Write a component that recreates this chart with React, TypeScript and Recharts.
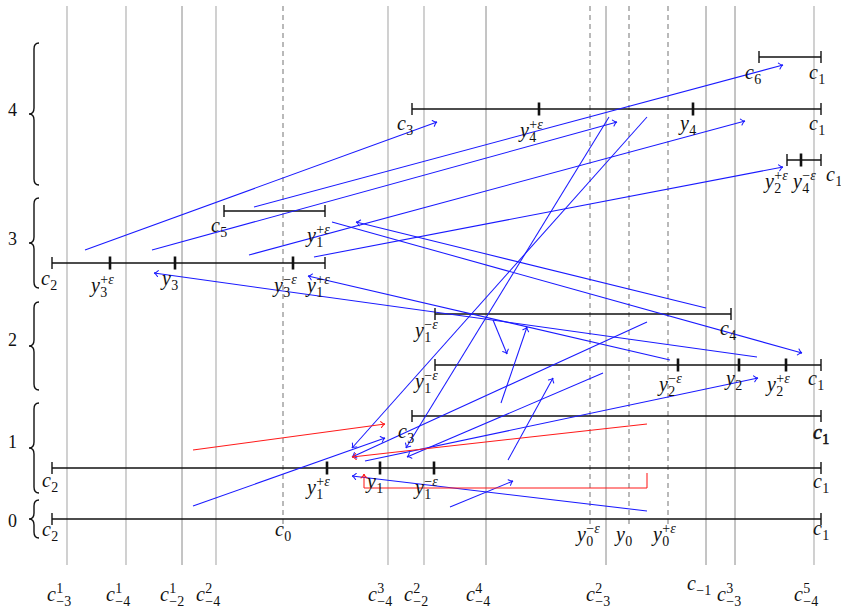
import React from 'react';
import { ScatterChart, Scatter, XAxis, YAxis, ReferenceLine, ReferenceDot } from 'recharts';

const W = 841;
const H = 607;
const SERIF = "'Liberation Serif', 'DejaVu Serif', serif";

// vertical guide lines (x positions in diagram units)
const lightGuides = [67, 126, 216, 388, 424, 814];
const darkGuides = [182, 486, 606, 706, 735];
const dashedGuides = [283, 590, 629, 668];
const guideSpan = [6, 565];
const dashSpan = [6, 528];

// intervals: level y, start, end
const intervals = [
  { y: 519, a: 52, b: 821 },
  { y: 468, a: 52, b: 821 },
  { y: 416, a: 412, b: 821 },
  { y: 365, a: 435, b: 821 },
  { y: 314, a: 435, b: 731 },
  { y: 263, a: 52, b: 325 },
  { y: 211, a: 224, b: 325 },
  { y: 109, a: 412, b: 821 },
  { y: 57, a: 759, b: 821 },
  { y: 160, a: 787, b: 821 },
];

// interior (thick) ticks
const innerTicks = [
  { x: 327, y: 468 }, { x: 380, y: 468 }, { x: 434, y: 468 },
  { x: 678, y: 365 }, { x: 739, y: 365 }, { x: 786, y: 365 },
  { x: 110, y: 263 }, { x: 175, y: 263 }, { x: 293, y: 263 },
  { x: 539, y: 109 }, { x: 693, y: 109 },
  { x: 801, y: 160 },
];

const endTicks = intervals.flatMap((r) => [{ x: r.a, y: r.y }, { x: r.b, y: r.y }]);

// blue arrows (from -> to)
const blueArrows = [
  { x1: 85, y1: 250, x2: 437, y2: 122 },
  { x1: 152, y1: 250, x2: 617, y2: 122 },
  { x1: 254, y1: 207, x2: 783, y2: 65 },
  { x1: 249, y1: 255, x2: 745, y2: 121 },
  { x1: 314, y1: 257, x2: 783, y2: 167 },
  { x1: 332, y1: 222, x2: 802, y2: 353 },
  { x1: 706, y1: 308, x2: 356, y2: 222 },
  { x1: 670, y1: 360, x2: 308, y2: 276 },
  { x1: 757, y1: 357, x2: 154, y2: 273 },
  { x1: 647, y1: 117, x2: 352, y2: 448 },
  { x1: 609, y1: 117, x2: 406, y2: 448 },
  { x1: 647, y1: 322, x2: 352, y2: 457 },
  { x1: 603, y1: 373, x2: 407, y2: 457 },
  { x1: 365, y1: 461, x2: 758, y2: 378 },
  { x1: 193, y1: 506, x2: 385, y2: 438 },
  { x1: 647, y1: 511, x2: 352, y2: 476 },
  { x1: 450, y1: 507, x2: 513, y2: 481 },
  { x1: 508, y1: 460, x2: 553, y2: 378 },
  { x1: 501, y1: 403, x2: 527, y2: 327 },
  { x1: 493, y1: 320, x2: 507, y2: 354 },
];

const redArrows = [
  { x1: 193, y1: 450, x2: 385, y2: 424 },
  { x1: 647, y1: 424, x2: 352, y2: 457 },
];

const redPath = [
  { x: 647, y: 473 },
  { x: 647, y: 488 },
  { x: 364, y: 488 },
  { x: 364, y: 474 },
];

// level braces
const braces = [
  { label: '0', top: 500, bottom: 538, ly: 527 },
  { label: '1', top: 403, bottom: 493, ly: 448 },
  { label: '2', top: 302, bottom: 390, ly: 346 },
  { label: '3', top: 198, bottom: 288, ly: 245 },
  { label: '4', top: 43, bottom: 185, ly: 116 },
];
const braceX = 34;

type Lab = { b: string; sub?: string; sup?: string; x: number; y: number; bold?: boolean };

const rowLabels: Lab[] = [
  { b: 'c', sub: '2', x: 42, y: 536 },
  { b: 'c', sub: '0', x: 275, y: 536 },
  { b: 'c', sub: '1', x: 813, y: 535 },
  { b: 'y', sub: '0', sup: '−ε', x: 577, y: 541 },
  { b: 'y', sub: '0', x: 616, y: 541 },
  { b: 'y', sub: '0', sup: '+ε', x: 653, y: 541 },

  { b: 'c', sub: '2', x: 42, y: 487 },
  { b: 'y', sub: '1', sup: '+ε', x: 307, y: 494 },
  { b: 'y', sub: '1', x: 367, y: 488 },
  { b: 'y', sub: '1', sup: '−ε', x: 415, y: 494 },
  { b: 'c', sub: '1', x: 813, y: 488 },

  { b: 'c', sub: '3', x: 398, y: 438 },
  { b: 'c', sub: '1', x: 813, y: 439, bold: true },

  { b: 'y', sub: '1', sup: '−ε', x: 415, y: 388 },
  { b: 'y', sub: '2', sup: '−ε', x: 659, y: 391 },
  { b: 'y', sub: '2', x: 726, y: 385 },
  { b: 'y', sub: '2', sup: '+ε', x: 767, y: 391 },
  { b: 'c', sub: '1', x: 808, y: 385 },

  { b: 'y', sub: '1', sup: '−ε', x: 415, y: 337 },
  { b: 'c', sub: '4', x: 720, y: 335 },

  { b: 'c', sub: '2', x: 41, y: 285 },
  { b: 'y', sub: '3', sup: '+ε', x: 91, y: 292 },
  { b: 'y', sub: '3', x: 162, y: 285 },
  { b: 'y', sub: '3', sup: '−ε', x: 274, y: 292 },
  { b: 'y', sub: '1', sup: '+ε', x: 307, y: 292 },

  { b: 'c', sub: '5', x: 211, y: 232 },
  { b: 'y', sub: '1', sup: '+ε', x: 307, y: 242 },

  { b: 'c', sub: '3', x: 397, y: 130 },
  { b: 'y', sub: '4', sup: '+ε', x: 520, y: 137 },
  { b: 'y', sub: '4', x: 680, y: 130 },
  { b: 'c', sub: '1', x: 809, y: 130 },

  { b: 'c', sub: '6', x: 745, y: 79 },
  { b: 'c', sub: '1', x: 809, y: 79 },

  { b: 'y', sub: '2', sup: '+ε', x: 765, y: 188 },
  { b: 'y', sub: '4', sup: '−ε', x: 793, y: 188 },
  { b: 'c', sub: '1', x: 826, y: 181 },
];

const bottomLabels: Lab[] = [
  { b: 'c', sub: '−3', sup: '1', x: 47, y: 601 },
  { b: 'c', sub: '−4', sup: '1', x: 106, y: 601 },
  { b: 'c', sub: '−2', sup: '1', x: 160, y: 601 },
  { b: 'c', sub: '−4', sup: '2', x: 196, y: 601 },
  { b: 'c', sub: '−4', sup: '3', x: 368, y: 601 },
  { b: 'c', sub: '−2', sup: '2', x: 404, y: 601 },
  { b: 'c', sub: '−4', sup: '4', x: 466, y: 601 },
  { b: 'c', sub: '−3', sup: '2', x: 586, y: 601 },
  { b: 'c', sub: '−1', x: 687, y: 590 },
  { b: 'c', sub: '−3', sup: '3', x: 717, y: 601 },
  { b: 'c', sub: '−4', sup: '5', x: 794, y: 601 },
];

const TEXT = '#111';

function scriptSpans(s: string) {
  return s.split('').map((ch, i) => (
    <tspan key={i} fontStyle={ch === 'ε' ? 'italic' : 'normal'}>{ch}</tspan>
  ));
}

function MathText({ cx, cy, lab }: { cx: number; cy: number; lab: Lab }) {
  const size = 20;
  const ss = 14;
  const bw = 9;
  const sx = cx + bw + 0.3;
  const both = !!(lab.sub && lab.sup);
  const subY = cy + (both ? 5 : 4.5);
  const supY = cy - 8.5;
  const extra = lab.bold ? { stroke: TEXT, strokeWidth: 0.6 } : {};
  return (
    <text x={cx} y={cy} fill={TEXT} fontFamily={SERIF} {...extra}>
      <tspan fontSize={size} fontStyle="italic">{lab.b}</tspan>
      {lab.sup && (
        <tspan x={sx} y={supY} fontSize={ss}>{scriptSpans(lab.sup)}</tspan>
      )}
      {lab.sub && (
        <tspan x={sx} y={subY} fontSize={ss}>{scriptSpans(lab.sub)}</tspan>
      )}
    </text>
  );
}

function arrowShape(color: string, head: boolean, width = 1.05) {
  return (p: any) => {
    const { x1, y1, x2, y2 } = p;
    const ang = Math.atan2(y2 - y1, x2 - x1);
    const L = 5;
    const a = 0.65;
    const hx1 = x2 - L * Math.cos(ang - a);
    const hy1 = y2 - L * Math.sin(ang - a);
    const hx2 = x2 - L * Math.cos(ang + a);
    const hy2 = y2 - L * Math.sin(ang + a);
    const qx = x2 - 1.5 * Math.cos(ang);
    const qy = y2 - 1.5 * Math.sin(ang);
    return (
      <g>
        <line x1={x1} y1={y1} x2={x2} y2={y2} stroke={color} strokeWidth={width} />
        {head && (
          <path
            d={`M${hx1},${hy1} Q${qx},${qy} ${x2},${y2} Q${qx},${qy} ${hx2},${hy2}`}
            fill="none"
            stroke={color}
            strokeWidth={width}
            strokeLinecap="round"
          />
        )}
      </g>
    );
  };
}

function braceShape(p: any) {
  const { x1, y1, y2 } = p;
  const top = Math.min(y1, y2);
  const bot = Math.max(y1, y2);
  const mid = (top + bot) / 2;
  const x = x1;
  const d = `M${x + 5},${top} Q${x},${top} ${x},${top + 6} L${x},${mid - 6} Q${x},${mid} ${x - 5},${mid} Q${x},${mid} ${x},${mid + 6} L${x},${bot - 6} Q${x},${bot} ${x + 5},${bot}`;
  return <path d={d} fill="none" stroke="#111" strokeWidth={1.4} />;
}

function plainLine(color: string, width: number, dash?: string) {
  return (p: any) => (
    <line x1={p.x1} y1={p.y1} x2={p.x2} y2={p.y2} stroke={color} strokeWidth={width} strokeDasharray={dash} />
  );
}

const innerTickShape = (p: any) => (
  <rect x={p.cx - 1.3} y={p.cy - 6.5} width={2.6} height={13} fill="#111" />
);
const endTickShape = (p: any) => (
  <line x1={p.cx} y1={p.cy - 6} x2={p.cx} y2={p.cy + 6} stroke="#111" strokeWidth={1.4} />
);

export default function App() {
  return (
    <div style={{ position: 'absolute', left: 0, top: 0, width: W, height: H, background: '#fff' }}>
      <ScatterChart width={W} height={H} margin={{ top: 0, right: 0, bottom: 0, left: 0 }}>
        <XAxis type="number" dataKey="x" domain={[0, W]} hide allowDataOverflow height={0} />
        <YAxis type="number" dataKey="y" domain={[0, H]} hide reversed allowDataOverflow width={0} />

        {lightGuides.map((x) => (
          <ReferenceLine key={'lg' + x} segment={[{ x, y: guideSpan[0] }, { x, y: guideSpan[1] }]} shape={plainLine('#bdbdbd', 1.4)} />
        ))}
        {darkGuides.map((x) => (
          <ReferenceLine key={'dg' + x} segment={[{ x, y: guideSpan[0] }, { x, y: guideSpan[1] }]} shape={plainLine('#8a8a8a', 1)} />
        ))}
        {dashedGuides.map((x) => (
          <ReferenceLine key={'dd' + x} segment={[{ x, y: dashSpan[0] }, { x, y: dashSpan[1] }]} shape={plainLine('#808080', 1.1, '5 4')} />
        ))}

        {intervals.map((r, i) => (
          <ReferenceLine key={'iv' + i} segment={[{ x: r.a, y: r.y }, { x: r.b, y: r.y }]} shape={plainLine('#111', 1.6)} />
        ))}

        {braces.map((b) => (
          <ReferenceLine key={'br' + b.label} segment={[{ x: braceX, y: b.top }, { x: braceX, y: b.bottom }]} shape={braceShape} />
        ))}

        {blueArrows.map((a, i) => (
          <ReferenceLine key={'ba' + i} segment={[{ x: a.x1, y: a.y1 }, { x: a.x2, y: a.y2 }]} shape={arrowShape('#1a1aff', true)} />
        ))}
        {redArrows.map((a, i) => (
          <ReferenceLine key={'ra' + i} segment={[{ x: a.x1, y: a.y1 }, { x: a.x2, y: a.y2 }]} shape={arrowShape('#ff1a1a', true)} />
        ))}
        {redPath.slice(1).map((pt, i) => (
          <ReferenceLine
            key={'rp' + i}
            segment={[{ x: redPath[i].x, y: redPath[i].y }, { x: pt.x, y: pt.y }]}
            shape={arrowShape('#ff1a1a', i === redPath.length - 2)}
          />
        ))}

        <Scatter data={endTicks} shape={endTickShape} isAnimationActive={false} />
        <Scatter data={innerTicks} shape={innerTickShape} isAnimationActive={false} />

        {[...rowLabels, ...bottomLabels].map((lab, i) => (
          <ReferenceDot
            key={'lb' + i}
            x={lab.x}
            y={lab.y}
            shape={(p: any) => <MathText cx={p.cx} cy={p.cy} lab={lab} />}
          />
        ))}
        {braces.map((b) => (
          <ReferenceDot
            key={'bl' + b.label}
            x={8}
            y={b.ly}
            shape={(p: any) => (
              <text x={p.cx} y={p.cy} fontSize={18} fontFamily={SERIF} fill={TEXT}>{b.label}</text>
            )}
          />
        ))}
      </ScatterChart>
    </div>
  );
}
